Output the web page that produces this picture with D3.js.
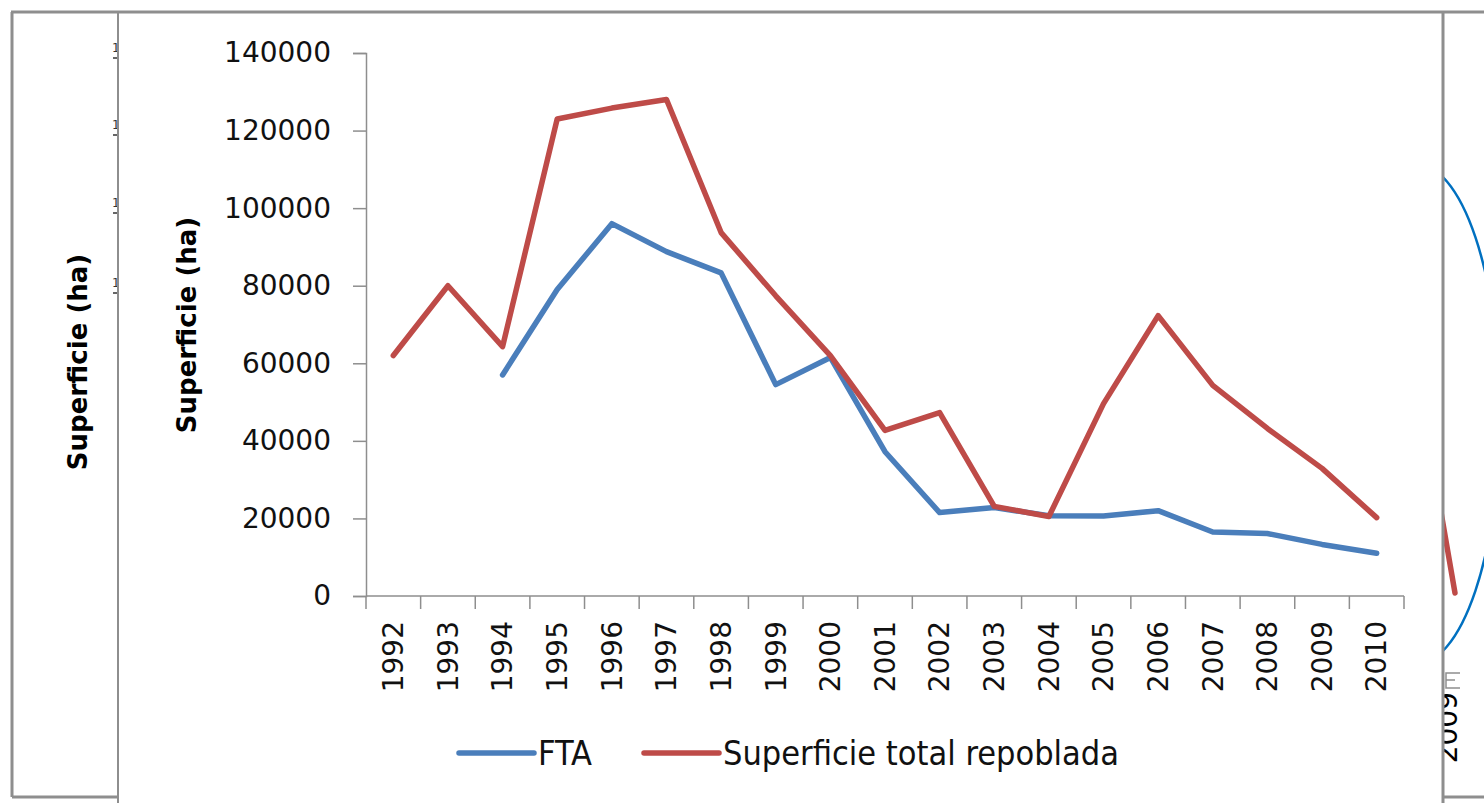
<!DOCTYPE html>
<html>
<head>
<meta charset="utf-8">
<script src="https://cdn.jsdelivr.net/npm/d3@7"></script>
<style>
  html, body { margin: 0; padding: 0; background: #fff; }
  svg { display: block; }
</style>
</head>
<body>
<svg id="chart" width="1484" height="803"></svg>
<script>
// categorie (anni)
var years = ["1992","1993","1994","1995","1996","1997","1998","1999","2000","2001",
             "2002","2003","2004","2005","2006","2007","2008","2009","2010"];

// serie FTA (parte dal 1994)
var fta = [null, null, 57000, 79000, 96000, 88800, 83300, 54500, 61500, 37200,
           21500, 22800, 20700, 20600, 22000, 16500, 16100, 13300, 11000];

// serie superficie total repoblada
var repoblada = [62000, 80000, 64300, 123000, 125800, 128000, 93700, 77400, 62000, 42700,
                 47300, 23100, 20500, 49600, 72300, 54300, 43200, 32900, 20200];

var yTicks = [0, 20000, 40000, 60000, 80000, 100000, 120000, 140000];

var seriesNames = ["FTA", "Superficie total repoblada"];
var seriesColors = ["#4A7EBB", "#BE4B48"];

var svg = d3.select("#chart");
var grigio = "#8e8e8e";

// scale del grafico principale
var xScale = d3.scaleBand().domain(years).range([366, 1404]);
var yScale = d3.scaleLinear().domain([0, 140000]).range([596, 53]);

// --- pannelli laterali (grafici sottostanti, quasi nascosti) ---
var defs = svg.append("defs");
defs.append("clipPath").attr("id", "clipLeft")
  .append("rect").attr("x", 12).attr("y", 12).attr("width", 106).attr("height", 785);
defs.append("clipPath").attr("id", "clipRight")
  .append("rect").attr("x", 1444).attr("y", 12).attr("width", 40).attr("height", 785);

var left = svg.append("g").attr("clip-path", "url(#clipLeft)");
[58, 135, 213, 293].forEach(function(yy) {
  left.append("line").attr("x1", 113).attr("x2", 118).attr("y1", yy).attr("y2", yy)
    .attr("stroke", "#333").attr("stroke-width", 1.5);
  left.append("text").attr("x", 112).attr("y", yy - 6)
    .attr("font-family", "DejaVu Sans").attr("font-size", 12).attr("fill", "#333")
    .text("1");
});
left.append("text")
  .attr("transform", "translate(78,362) rotate(-90)")
  .attr("text-anchor", "middle").attr("dominant-baseline", "central")
  .attr("font-family", "DejaVu Sans").attr("font-weight", "bold").attr("font-size", 26)
  .attr("fill", "#000")
  .text("Superficie (ha)");

var right = svg.append("g").attr("clip-path", "url(#clipRight)");
right.append("ellipse").attr("cx", 1416).attr("cy", 414).attr("rx", 84).attr("ry", 250)
  .attr("fill", "none").attr("stroke", "#0070C0").attr("stroke-width", 2.5);
right.append("line").attr("x1", 1441).attr("y1", 512).attr("x2", 1455).attr("y2", 593)
  .attr("stroke", seriesColors[1]).attr("stroke-width", 5.5).attr("stroke-linecap", "round");
right.append("path").attr("d", "M1460,673H1446V688H1460M1446,680H1455")
  .attr("fill", "none").attr("stroke", grigio).attr("stroke-width", 1.5);
right.append("text")
  .attr("transform", "translate(1447,692) rotate(-90)")
  .attr("text-anchor", "end").attr("dy", "0.35em")
  .attr("font-family", "DejaVu Sans").attr("font-size", 28).attr("fill", "#000")
  .text("2009");

// --- asse Y ---
var yAxis = d3.axisLeft(yScale)
  .tickValues(yTicks)
  .tickSize(13)
  .tickPadding(22)
  .tickFormat(d3.format("d"));
var gy = svg.append("g").attr("transform", "translate(366,0)").call(yAxis);
gy.select(".domain").attr("stroke", grigio).attr("stroke-width", 1.5);
gy.selectAll(".tick line").attr("stroke", grigio).attr("stroke-width", 1.5);
gy.selectAll(".tick text")
  .attr("font-family", "DejaVu Sans").attr("font-size", 28).attr("fill", "#111");

// --- asse X (tacche tra le categorie) ---
var gx = svg.append("g");
gx.append("line").attr("x1", 366).attr("x2", 1404)
  .attr("y1", yScale(0)).attr("y2", yScale(0))
  .attr("stroke", grigio).attr("stroke-width", 1.5);
var bordi = years.map(function(d) { return xScale(d); }).concat([xScale.range()[1]]);
gx.selectAll("line.tacca").data(bordi).enter().append("line")
  .attr("class", "tacca")
  .attr("x1", function(d) { return d; }).attr("x2", function(d) { return d; })
  .attr("y1", yScale(0)).attr("y2", yScale(0) + 13)
  .attr("stroke", grigio).attr("stroke-width", 1.5);
gx.selectAll("text").data(years).enter().append("text")
  .attr("transform", function(d) {
    return "translate(" + (xScale(d) + xScale.bandwidth() / 2) + ",621) rotate(-90)";
  })
  .attr("text-anchor", "end").attr("dy", "0.35em")
  .attr("font-family", "DejaVu Sans").attr("font-size", 28).attr("fill", "#111")
  .text(function(d) { return d; });

// titolo asse Y
svg.append("text")
  .attr("transform", "translate(187,325) rotate(-90)")
  .attr("text-anchor", "middle").attr("dominant-baseline", "central")
  .attr("font-family", "DejaVu Sans").attr("font-weight", "bold").attr("font-size", 26)
  .attr("fill", "#000")
  .text("Superficie (ha)");

// --- linee ---
var line = d3.line()
  .defined(function(d) { return d.v != null; })
  .x(function(d) { return xScale(d.anno) + xScale.bandwidth() / 2; })
  .y(function(d) { return yScale(d.v); });

[fta, repoblada].forEach(function(serie, i) {
  var punti = years.map(function(a, k) { return {anno: a, v: serie[k]}; });
  svg.append("path")
    .datum(punti)
    .attr("d", line)
    .attr("fill", "none")
    .attr("stroke", seriesColors[i])
    .attr("stroke-width", 5.5)
    .attr("stroke-linejoin", "round")
    .attr("stroke-linecap", "round");
});

// --- legenda ---
var legendaX = [459, 644];
seriesNames.forEach(function(nome, i) {
  svg.append("line")
    .attr("x1", legendaX[i]).attr("x2", legendaX[i] + 75)
    .attr("y1", 753).attr("y2", 753)
    .attr("stroke", seriesColors[i]).attr("stroke-width", 5.5)
    .attr("stroke-linecap", "round");
  svg.append("text")
    .attr("x", legendaX[i] + 79).attr("y", 753)
    .attr("dy", "0.36em")
    .attr("font-family", "'Liberation Sans Narrow', 'DejaVu Sans Condensed', sans-serif")
    .attr("font-size", 34).attr("fill", "#111")
    .text(nome);
});

// --- cornici grigie ---
var cornici = [
  [11, 12, 1484, 12, 3],
  [12, 12, 12, 797, 3],
  [12, 797, 118, 797, 3],
  [118, 12, 118, 803, 2],
  [1443, 12, 1443, 803, 3],
  [1443, 797, 1484, 797, 3]
];
cornici.forEach(function(c) {
  svg.append("line").attr("x1", c[0]).attr("y1", c[1]).attr("x2", c[2]).attr("y2", c[3])
    .attr("stroke", grigio).attr("stroke-width", c[4]);
});
</script>
</body>
</html>
